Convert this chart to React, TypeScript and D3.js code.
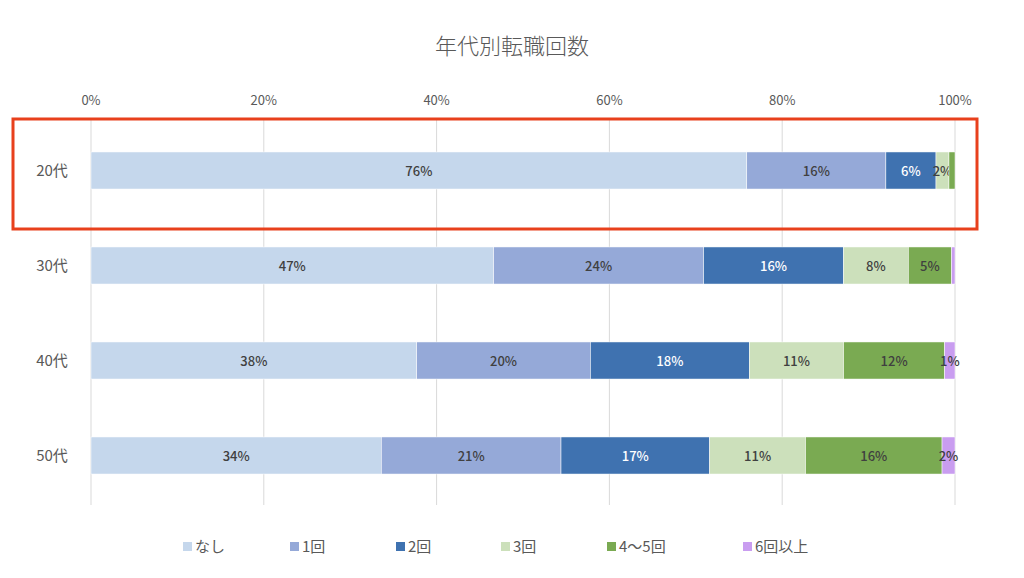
import React from "react";
import * as d3 from "d3";

const title = "年代別転職回数";
const categories = ["20代", "30代", "40代", "50代"];
const seriesNames = ["なし", "1回", "2回", "3回", "4〜5回", "6回以上"];
const seriesColors = ["#c5d7ec", "#95a9d8", "#3f72b0", "#cce0bb", "#7aaa52", "#c99df0"];
const labelColors = ["#404040", "#404040", "#ffffff", "#404040", "#404040", "#404040"];
// percentage values per category, in series order
const valNashi = [75.9, 46.6, 37.7, 33.6];
const val1 = [16.1, 24.3, 20.1, 20.8];
const val2 = [5.8, 16.2, 18.4, 17.2];
const val3 = [1.5, 7.5, 10.9, 11.1];
const val45 = [0.7, 5.0, 11.7, 15.8];
const val6 = [0.0, 0.4, 1.2, 1.5];
const tickValues = [0, 20, 40, 60, 80, 100];

const W = 1024;
const H = 578;

export default function App() {
  const font = "'Noto Sans CJK JP', 'Noto Sans', sans-serif";
  const x = d3.scaleLinear().domain([0, 100]).range([91, 955]);
  const y = d3.scaleBand<string>().domain(categories).range([123, 503]).paddingInner(0.61).paddingOuter(0.305);
  const table = categories.map((c, i) => {
    const row: any = { cat: c };
    const vals = [valNashi[i], val1[i], val2[i], val3[i], val45[i], val6[i]];
    seriesNames.forEach((s, j) => (row[s] = vals[j]));
    return row;
  });
  const stack = d3.stack<any>().keys(seriesNames)(table);

  const legendX = [183, 290, 396, 501, 607, 743];

  return (
    <svg width={W} height={H} style={{ position: "absolute", left: 0, top: 0, background: "#fff" }} fontFamily={font}>
      <rect x={0} y={0} width={W} height={H} fill="#fff" />
      <text x={512} y={54} textAnchor="middle" fontSize={22} fill="#595959" fontWeight={300}>{title}</text>
      {tickValues.map((t) => (
        <g key={t}>
          <line x1={x(t)} x2={x(t)} y1={118} y2={505} stroke="#d9d9d9" strokeWidth={1} />
          <text x={x(t)} y={105} textAnchor="middle" fontSize={13} fill="#595959">{t}%</text>
        </g>
      ))}
      {categories.map((c) => (
        <text key={c} x={52} y={(y(c) as number) + y.bandwidth() / 2 + 5} textAnchor="middle" fontSize={15} fill="#595959">{c}</text>
      ))}
      {stack.map((layer, j) => (
        <g key={layer.key}>
          {layer.map((d, i) => {
            const cat = categories[i];
            const x0 = x(d[0]);
            const x1 = x(d[1]);
            const v = d[1] - d[0];
            const yy = y(cat) as number;
            return (
              <g key={cat}>
                {v > 0 && <rect x={x0} y={yy} width={x1 - x0} height={y.bandwidth()} fill={seriesColors[j]} stroke="#ffffff" strokeWidth={0.5} />}
                {v >= 1 && (
                  <text x={(x0 + x1) / 2} y={yy + y.bandwidth() / 2 + 5} textAnchor="middle" fontSize={13} fontWeight={500} fill={labelColors[j]}>
                    {Math.round(v)}%
                  </text>
                )}
              </g>
            );
          })}
        </g>
      ))}
      <rect x={13} y={119} width={964} height={110} fill="none" stroke="#e8401c" strokeWidth={3} />
      {seriesNames.map((s, j) => (
        <g key={s}>
          <rect x={legendX[j]} y={542} width={9} height={9} fill={seriesColors[j]} />
          <text x={legendX[j] + 12} y={552} fontSize={15} fill="#595959">{s}</text>
        </g>
      ))}
    </svg>
  );
}
